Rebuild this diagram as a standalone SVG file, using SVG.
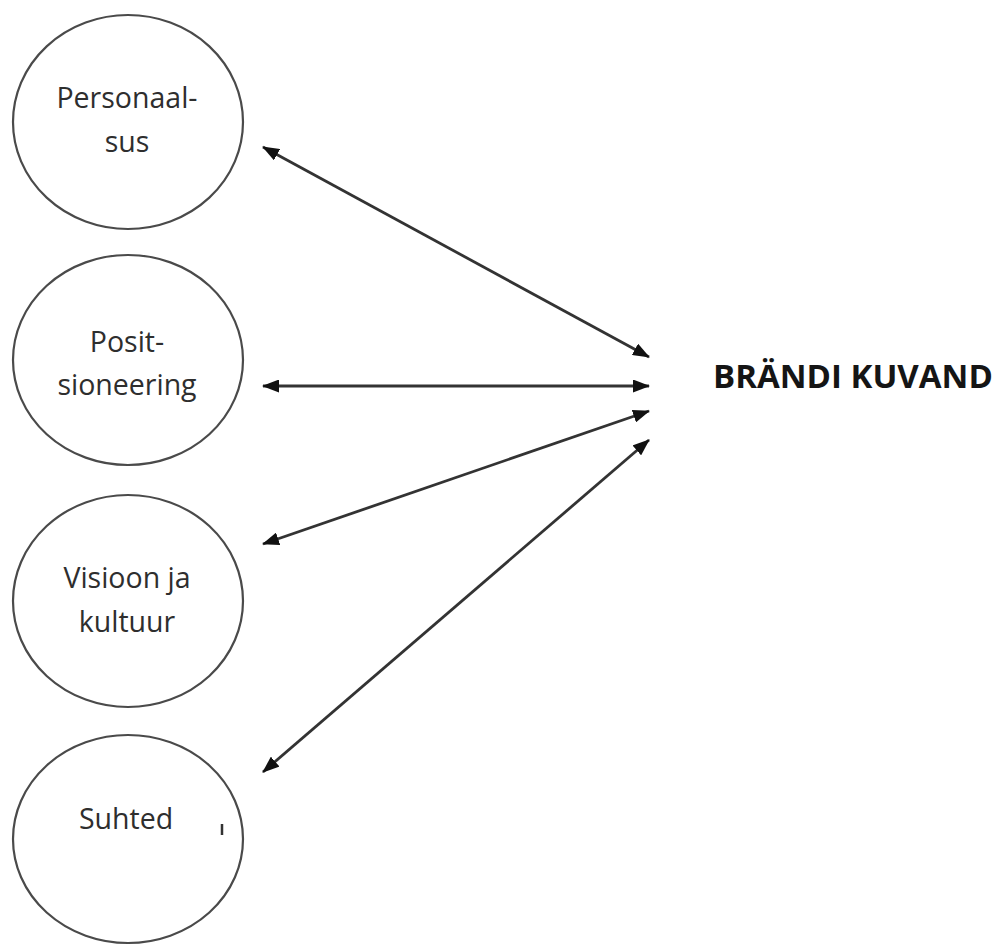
<svg xmlns="http://www.w3.org/2000/svg" width="998" height="945" viewBox="0 0 998 945">
<style>
.node ellipse{fill:#fff;stroke:#4a4a4a;stroke-width:2.2}
.lbl{font-family:"Open Sans","Noto Sans",sans-serif;font-size:28.5px;fill:#2e2e2e;text-anchor:middle}
.title{font-family:"Open Sans","Noto Sans",sans-serif;font-size:33px;font-weight:bold;fill:#151515}
.conn line{stroke:#333;stroke-width:2.8;marker-start:url(#ah);marker-end:url(#ah)}
</style>
<defs>
<marker id="ah" viewBox="0 0 17 13" refX="16" refY="6.5" markerWidth="17" markerHeight="13" markerUnits="userSpaceOnUse" orient="auto-start-reverse">
<path d="M0,0 L17,6.5 L0,13 Z" fill="#111"/>
</marker>
</defs>
<rect width="998" height="945" fill="#fff"/>
<g id="node-personaalsus" class="node">
<ellipse cx="128" cy="122" rx="115" ry="107"/>
<text class="lbl" x="127" y="108">Personaal-</text>
<text class="lbl" x="127" y="152">sus</text>
</g>
<g id="node-positsioneering" class="node">
<ellipse cx="128" cy="360" rx="115" ry="105"/>
<text class="lbl" x="127" y="352">Posit-</text>
<text class="lbl" x="127" y="395">sioneering</text>
</g>
<g id="node-visioon" class="node">
<ellipse cx="128" cy="601" rx="115" ry="106"/>
<text class="lbl" x="127" y="588">Visioon ja</text>
<text class="lbl" x="127" y="632">kultuur</text>
</g>
<g id="node-suhted" class="node">
<ellipse cx="128" cy="839" rx="115" ry="104"/>
<text class="lbl" x="126" y="829">Suhted</text>
<line x1="222" y1="824" x2="222" y2="835" stroke="#333" stroke-width="2.5"/>
</g>
<g id="node-brandi-kuvand">
<text class="title" x="713" y="388">BRÄNDI KUVAND</text>
</g>
<g id="connectors" class="conn">
<line x1="263" y1="147" x2="649" y2="357"/>
<line x1="263" y1="386" x2="649" y2="386"/>
<line x1="263" y1="544" x2="649" y2="411"/>
<line x1="263" y1="772" x2="649" y2="440"/>
</g>
</svg>
